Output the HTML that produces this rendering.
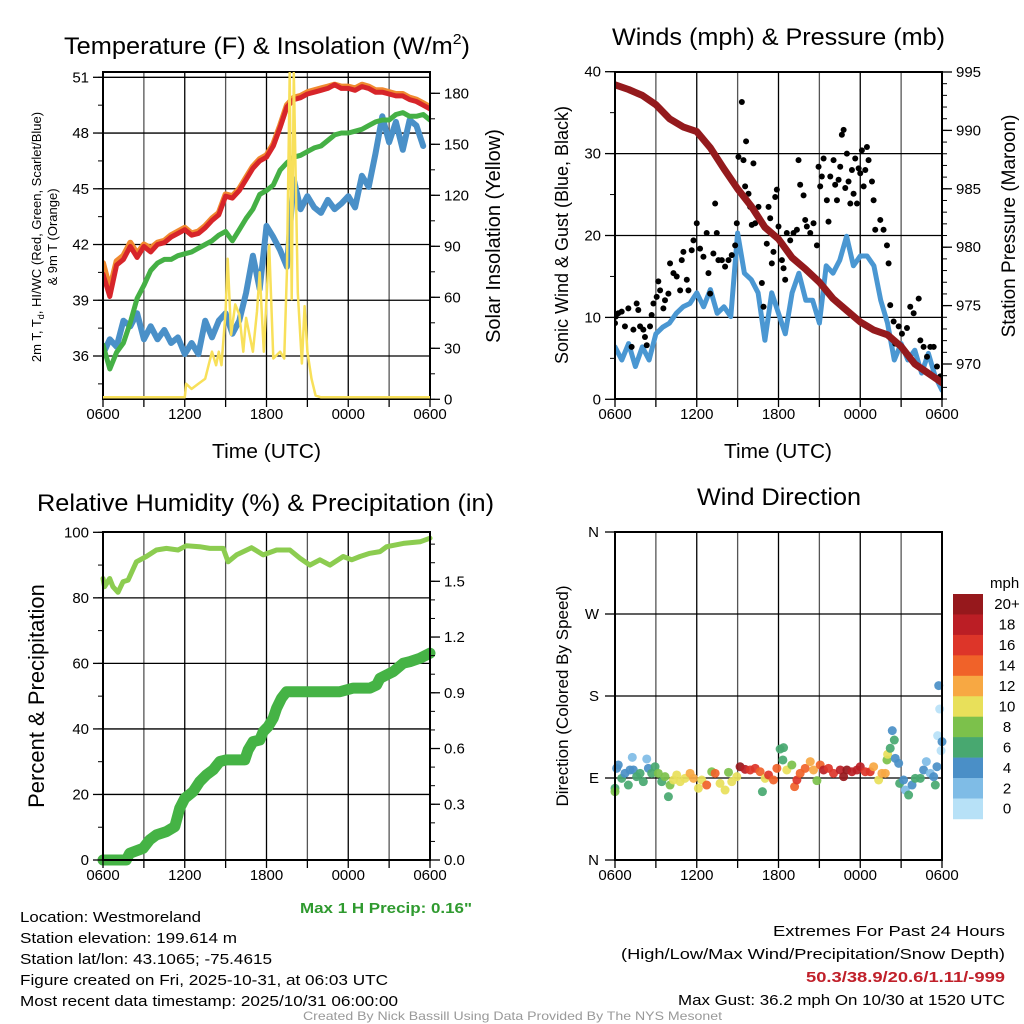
<!DOCTYPE html>
<html><head><meta charset="utf-8"><style>
html,body{margin:0;padding:0;background:#fff;}
svg{display:block;font-family:"Liberation Sans",Arial,sans-serif;}
</style></head><body>
<svg id="fig" width="1024" height="1024" viewBox="0 0 1024 1024" xmlns="http://www.w3.org/2000/svg">
<g id="p1"></g>
<g id="p2"></g>
<g id="p3"></g>
<g id="p4"></g>
<g font-size="24" fill="#000">
<text x="64" y="54" textLength="406" lengthAdjust="spacingAndGlyphs">Temperature (F) &amp; Insolation (W/m<tspan font-size="15" dy="-10">2</tspan><tspan dy="10">)</tspan></text>
<text x="612" y="45" textLength="333" lengthAdjust="spacingAndGlyphs">Winds (mph) &amp; Pressure (mb)</text>
<text x="37" y="511" textLength="457" lengthAdjust="spacingAndGlyphs">Relative Humidity (%) &amp; Precipitation (in)</text>
<text x="697" y="505" textLength="164" lengthAdjust="spacingAndGlyphs">Wind Direction</text>
</g>
<g fill="#000">
<text x="212" y="458" font-size="20" textLength="109" lengthAdjust="spacingAndGlyphs">Time (UTC)</text>
<text x="724" y="458" font-size="20" textLength="108" lengthAdjust="spacingAndGlyphs">Time (UTC)</text>
<text transform="translate(41,237) rotate(-90)" text-anchor="middle" font-size="13">2m T, T<tspan font-size="9" dy="3">d</tspan><tspan dy="-3">, HI/WC (Red, Green, Scarlet/Blue)</tspan></text>
<text transform="translate(57,237) rotate(-90)" text-anchor="middle" font-size="13">&amp; 9m T (Orange)</text>
<text transform="translate(500,236) rotate(-90)" text-anchor="middle" font-size="20">Solar Insolation (Yellow)</text>
<text transform="translate(568,235) rotate(-90)" text-anchor="middle" font-size="18">Sonic Wind &amp; Gust (Blue, Black)</text>
<text transform="translate(1015,226) rotate(-90)" text-anchor="middle" font-size="19">Station Pressure (Maroon)</text>
<text transform="translate(44,696) rotate(-90)" text-anchor="middle" font-size="22">Percent &amp; Precipitation</text>
<text transform="translate(568,696) rotate(-90)" text-anchor="middle" font-size="17">Direction (Colored By Speed)</text>
</g>
<g font-size="15" fill="#000">
<text x="300" y="913" fill="#2f9a2f" font-weight="bold" textLength="172" lengthAdjust="spacingAndGlyphs">Max 1 H Precip: 0.16"</text>
<text x="20" y="922" textLength="181" lengthAdjust="spacingAndGlyphs">Location: Westmoreland</text>
<text x="20" y="943" textLength="217" lengthAdjust="spacingAndGlyphs">Station elevation: 199.614 m</text>
<text x="20" y="964" textLength="252" lengthAdjust="spacingAndGlyphs">Station lat/lon: 43.1065; -75.4615</text>
<text x="20" y="985" textLength="368" lengthAdjust="spacingAndGlyphs">Figure created on Fri, 2025-10-31, at 06:03 UTC</text>
<text x="20" y="1006" textLength="378" lengthAdjust="spacingAndGlyphs">Most recent data timestamp: 2025/10/31 06:00:00</text>
<text x="773" y="936" textLength="232" lengthAdjust="spacingAndGlyphs">Extremes For Past 24 Hours</text>
<text x="621" y="959" textLength="384" lengthAdjust="spacingAndGlyphs">(High/Low/Max Wind/Precipitation/Snow Depth)</text>
<text x="806" y="982" fill="#c0202a" font-weight="bold" textLength="199" lengthAdjust="spacingAndGlyphs">50.3/38.9/20.6/1.11/-999</text>
<text x="678" y="1005" textLength="327" lengthAdjust="spacingAndGlyphs">Max Gust: 36.2 mph On 10/30 at 1520 UTC</text>
<text x="303" y="1020" font-size="12" fill="#999" textLength="419" lengthAdjust="spacingAndGlyphs">Created By Nick Bassill Using Data Provided By The NYS Mesonet</text>
</g>
</svg>
<script>
// ===== Data =====
const xTickLabels = ["0600","1200","1800","0000","0600"];
const halfHours = [0,0.5,1,1.5,2,2.5,3,3.5,4,4.5,5,5.5,6,6.5,7,7.5,8,8.5,9,9.5,10,10.5,11,11.5,12,12.5,13,13.5,14,14.5,15,15.5,16,16.5,17,17.5,18,18.5,19,19.5,20,20.5,21,21.5,22,22.5,23,23.5,24];
const tempRed = [40.4,39.2,40.9,41.2,41.9,41.3,41.9,41.6,42.0,42.1,42.4,42.6,42.8,42.5,42.6,42.9,43.3,43.6,44.6,44.5,44.9,45.5,46.1,46.5,46.7,47.3,48.3,49.4,49.8,49.9,50.1,50.2,50.3,50.4,50.6,50.4,50.4,50.3,50.5,50.4,50.2,50.2,50.1,50.0,50.0,49.8,49.7,49.5,49.3];
const tempOrange = [41.0,39.6,41.1,41.4,42.1,41.5,42.0,41.8,42.1,42.2,42.5,42.7,42.9,42.6,42.7,43.0,43.4,43.7,44.7,44.6,45.0,45.6,46.2,46.6,46.8,47.4,48.4,49.5,49.9,50.0,50.2,50.3,50.4,50.5,50.6,50.5,50.5,50.4,50.6,50.5,50.3,50.3,50.2,50.1,50.1,49.9,49.8,49.6,49.4];
const dewGreen = [36.6,35.3,36.2,36.7,37.8,39.1,39.8,40.6,41.0,41.2,41.2,41.4,41.5,41.6,41.8,42.0,42.2,42.5,42.7,42.2,42.8,43.4,43.9,44.7,44.9,45.2,46.0,46.4,46.7,46.8,47.0,47.2,47.3,47.6,47.9,48.0,48.0,48.1,48.2,48.4,48.6,48.7,48.7,49.0,49.1,48.9,48.9,49.0,48.7];
const windChillBlue = [36.1,36.9,36.5,37.9,37.6,38.3,36.9,37.6,36.9,37.4,36.7,37.0,36.1,36.7,36.1,37.9,37.0,37.9,38.3,37.2,37.9,39.4,41.4,39.6,43.0,42.4,41.7,40.8,45.5,43.9,44.6,44.0,43.7,44.4,43.9,44.2,44.6,44.0,45.7,45.1,46.9,48.9,47.5,48.6,47.1,48.7,48.4,47.3];
const solarTimes = [0,6.0,6.1,6.5,7,7.5,8,8.3,8.5,8.7,9.0,9.15,9.4,9.7,10,10.3,10.5,11,11.3,11.5,11.8,12,12.2,12.5,13,13.3,13.5,13.7,13.85,14.0,14.3,14.6,14.8,15,15.3,15.6,16,24];
const solarValues = [0,0,8,5,8,11,27,19,27,19,51,82,37,55,49,27,47,27,51,74,27,58,90,23,27,23,74,192,58,192,62,20,54,27,11,1,0,0];
const tempTicks = [36,39,42,45,48,51];
const solarTicks = [0,30,60,90,120,150,180];

const hours = [0,1,2,3,4,5,6,7,8,9,10,11,12,13,14,15,16,17,18,19,20,21,22,23,24];
const pressure = [993.9,993.5,993.0,992.2,991.0,990.3,989.9,988.5,986.7,985.0,983.5,981.7,980.7,979.1,978.1,977.0,975.6,974.6,973.6,972.9,972.5,971.5,970.0,969.2,968.4];
const sonicWind = [6.4,4.8,6.8,4.0,6.4,4.8,8.0,8.8,9.3,10.5,11.3,11.7,13.0,11.3,13.4,10.5,11.3,10.1,20.3,15.4,14.6,13.0,7.2,13.0,10.5,8.0,13.0,15.4,12.1,12.1,9.3,16.3,15.4,17.0,19.9,16.3,17.5,17.5,16.3,12.1,9.3,4.8,6.8,4.8,6.0,3.2,5.6,2.8,1.1];
const gustTimes = [0,0.05,0.24,0.49,0.73,0.98,1.22,1.35,1.59,1.71,1.84,2.08,2.2,2.33,2.57,2.69,2.82,3.06,3.18,3.31,3.55,3.67,3.92,4.04,4.29,4.53,4.78,4.9,5.02,5.27,5.39,5.63,5.76,6.0,6.24,6.49,6.73,6.86,6.98,7.22,7.35,7.47,7.59,7.84,8.08,8.33,8.57,8.82,8.94,9.06,9.31,9.43,9.62,9.55,9.8,9.92,10.04,10.16,10.29,10.53,10.78,10.9,11.14,11.27,11.39,11.51,11.63,11.76,11.88,12.0,12.25,12.37,12.49,12.61,12.86,13.1,13.35,13.47,13.59,13.84,13.96,14.08,14.33,14.57,14.82,14.94,15.06,15.18,15.31,15.55,15.67,15.8,16.04,16.16,16.29,16.41,16.53,16.65,16.78,16.9,17.02,17.14,17.27,17.39,17.51,17.63,17.76,17.88,18.0,18.12,18.25,18.37,18.49,18.61,18.86,18.98,19.1,19.47,19.71,19.96,20.08,20.2,20.45,20.57,20.82,21.06,21.18,21.43,21.67,21.92,22.29,22.41,22.65,22.9,23.14,23.39,23.63,23.88];
const gustValues = [9.3,10.1,10.5,10.7,8.9,11.1,6.4,8.5,11.7,10.9,8.9,8.5,7.6,6.6,8.9,10.3,11.7,12.5,14.4,13.3,11.1,12.1,12.9,16.6,15.4,15.0,13.3,17.0,18.0,14.6,13.3,18.2,19.4,21.5,18.4,17.4,20.3,15.4,12.9,17.8,23.9,20.3,17.0,17.0,16.2,17.0,17.6,18.8,21.5,29.6,36.3,29.2,31.5,26.0,25.1,23.5,21.3,28.8,21.5,23.5,14.2,11.3,19.0,23.5,22.1,16.6,18.0,24.7,25.6,21.1,17.0,16.0,14.6,20.3,19.4,20.3,20.7,29.2,26.2,24.9,21.9,21.1,20.3,21.5,18.8,28.4,26.0,27.2,29.4,24.3,21.7,27.2,29.2,26.2,24.3,26.8,28.4,32.3,32.9,25.8,30.0,26.6,23.9,28.0,25.1,29.4,23.9,28.2,27.6,30.4,26.0,28.0,30.8,29.2,26.6,24.3,20.7,21.9,20.7,18.8,16.6,11.5,9.5,6.8,8.9,8.0,6.0,8.7,11.3,10.5,12.3,7.2,6.4,5.2,6.4,6.4,4.0,2.8];
const windTicks = [0,10,20,30,40];
const pressTicks = [970,975,980,985,990,995];

const rhTimes = [0,0.12,0.49,0.73,1.1,1.47,1.84,2.45,3.18,3.92,4.65,5.51,6.12,7.1,7.84,8.82,9.18,9.8,10.9,11.76,12.74,13.72,14.45,15.18,15.92,16.65,17.63,18.25,18.86,19.59,20.33,20.82,22.04,23.27,24];
const rhValues = [85.9,83.4,85.9,83.4,81.7,84.9,85.4,91.0,92.6,94.6,95.1,94.6,95.9,95.6,95.1,95.1,91.0,93.1,95.3,93.1,94.6,94.6,92.1,90.0,91.6,90.0,92.6,91.6,92.6,93.6,94.1,95.6,96.6,97.1,98.2];
const precipTimes = [0,1.71,1.96,2.94,3.43,3.92,4.65,5.27,5.63,6.0,6.61,7.1,7.59,8.08,8.57,9.06,10.41,10.65,11.02,11.51,11.76,12.12,12.49,12.74,13.1,13.47,15.18,17.39,18.37,19.59,20.08,20.33,20.82,21.31,22.04,22.53,23.27,24];
const precipValues = [0,0,0.036,0.063,0.108,0.135,0.153,0.18,0.278,0.332,0.368,0.422,0.458,0.485,0.53,0.539,0.539,0.592,0.637,0.646,0.691,0.718,0.763,0.817,0.871,0.906,0.906,0.906,0.925,0.925,0.942,0.978,0.996,1.014,1.059,1.068,1.086,1.113];
const pctTicks = [0,20,40,60,80,100];
const precipTicks = ["0.0","0.3","0.6","0.9","1.2","1.5"];

const dirTimes = [0,0,0.12,0.24,0.49,0.73,0.98,1.1,1.27,1.35,1.59,1.84,2.08,2.33,2.45,2.69,2.94,3.18,3.43,3.67,3.92,4.04,4.29,4.53,4.78,5.14,5.51,5.76,6.12,6.37,6.73,7.1,7.35,7.71,8.08,8.33,8.57,8.94,9.18,9.55,9.92,10.29,10.65,10.82,11.02,11.27,11.63,11.88,12.12,12.37,12.32,12.61,12.98,13.18,13.35,13.59,13.96,14.33,14.57,14.82,15.06,15.31,15.67,16.04,16.53,16.78,17.02,17.39,17.76,18.0,18.37,18.73,18.98,19.35,19.59,19.84,19.96,20.01,20.2,20.35,20.5,20.57,20.82,20.89,21.18,21.31,21.55,21.8,22.04,22.41,22.65,22.85,23.14,23.39,23.51,23.63,23.76,23.83,23.68,24.0,23.93];
const dirDegrees = [78.7,75.0,100.6,104.3,89.6,95.1,82.3,98.8,112.7,98.8,91.5,95.1,86.0,110.9,100.6,95.1,102.4,95.1,86.0,91.5,69.5,82.3,87.8,93.3,86.0,89.6,95.1,89.6,78.7,87.8,82.3,96.9,95.1,84.1,76.8,96.2,86.0,91.5,102.4,99.5,98.8,100.6,96.9,75.0,89.6,93.3,87.8,100.6,121.8,123.3,109.8,98.8,104.3,80.5,87.8,95.1,100.6,108.0,98.8,87.1,104.3,98.8,100.6,95.1,98.8,91.5,98.8,96.9,98.8,102.4,96.9,96.9,102.4,87.8,95.1,95.1,109.8,116.0,122.6,142.0,131.7,111.6,106.1,84.1,87.8,76.8,71.3,82.3,89.6,89.6,98.8,108.0,95.1,91.5,82.3,102.4,191.4,165.7,136.5,129.9,120.0];
const dirSpeeds = [7,8,4,4,6,5,6,4,3,4,6,6,6,3,4,6,6,8,6,8,6,8,10,10,10,10,12,12,10,10,14,8,14,10,10,8,10,10,20,18,16,16,14,6,10,16,14,14,6,6,6,10,8,14,16,14,14,12,12,8,14,18,16,16,18,20,20,18,18,18,16,16,12,10,12,12,8,10,6,4,6,4,4,6,4,2,6,4,6,6,4,2,2,4,6,4,4,0,0,4,0];
const dirTickLabels = ["N","E","S","W","N"];
const speedBins = ["0","2","4","6","8","10","12","14","16","18","20+"];
const speedColors = ["#b7e1f7","#7fbce6","#4a8fc7","#48a870","#7cc14b","#e8e05a","#f7a843","#f06229","#dd3529","#bb1e25","#96181c"];

// ===== Helpers =====
const NS = "http://www.w3.org/2000/svg";
function mk(parent, tag, attrs) {
  const el = document.createElementNS(NS, tag);
  for (const k in attrs) el.setAttribute(k, attrs[k]);
  parent.appendChild(el);
  return el;
}
function lin(d0, d1, r0, r1) { return v => r0 + (v - d0) / (d1 - d0) * (r1 - r0); }
function pathFrom(xs, ys, fx, fy) {
  return xs.map((t, i) => (i ? "L" : "M") + fx(t).toFixed(1) + "," + fy(ys[i]).toFixed(1)).join("");
}
function grid(g, L, R, T, B, fx, fy, yTicks) {
  for (let h = 0; h <= 24; h += 3) {
    const ln = mk(g, "line", {x1: fx(h), x2: fx(h), y1: T, y2: B, stroke: h % 6 === 0 ? "#000" : "#555", "stroke-width": 1.3});
    
    
  }
  yTicks.forEach(v => {
    const ln = mk(g, "line", {x1: L, x2: R, y1: fy(v), y2: fy(v), stroke: "#000", "stroke-width": 1.3});
    
    
  });
}
function frame(g, L, R, T, B) {
  const r = mk(g, "rect", {x: L, y: T, width: R - L, height: B - T, fill: "none", stroke: "#000", "stroke-width": 2});
  
  
}
function xAxis(g, fx, B) {
  for (let h = 0; h <= 24; h += 3) {
    const tk = mk(g, "line", {x1: fx(h), x2: fx(h), y1: B, y2: B + 8, stroke: "#000", "stroke-width": 1.3});
    
    
  }
  xTickLabels.forEach((lab, i) => {
    const tx = mk(g, "text", {x: fx(i * 6), y: B + 20, "font-size": 15, "text-anchor": "middle"});
    tx.textContent = lab;
    
    
  });
}
function yAxis(g, x, fy, ticks, labels, minorStep, lo, hi, side) {
  const dir = side === "left" ? -1 : 1;
  ticks.forEach((v, i) => {
    const tk = mk(g, "line", {x1: x, x2: x + dir * 10, y1: fy(v), y2: fy(v), stroke: "#000", "stroke-width": 1.3});
    
    
    const tx = mk(g, "text", {x: x + dir * 14, y: fy(v) + 5, "font-size": 15, "text-anchor": side === "left" ? "end" : "start"});
    tx.textContent = labels[i];
    
    
  });
  for (let v = lo; v <= hi + 1e-9; v += minorStep) {
    const m = mk(g, "line", {x1: x, x2: x + dir * 5, y1: fy(v), y2: fy(v), stroke: "#000", "stroke-width": 1});
    
    
  }
}
function line(g, d, color, w, name) {
  const p = mk(g, "path", {d: d, fill: "none", stroke: color, "stroke-width": w, "stroke-linejoin": "round", "stroke-linecap": "round"});
  
  
  return p;
}

// ===== Panel 1 =====
(function(){
  const g = document.getElementById("p1");
  const L = 103, R = 430, T = 72, B = 399;
  const fx = lin(0, 24, L, R);
  const fy = lin(36, 51, 356, 77.3);
  const fs = lin(0, 180, 399.3, 93.3);
  const fsLine = lin(0, 180, 397.3, 93.3);
  grid(g, L, R, T, B, fx, fy, tempTicks);
  const clip = mk(g, "clipPath", {id: "c1"}); mk(clip, "rect", {x: L, y: T, width: R - L, height: B - T});
  const pg = mk(g, "g", {"clip-path": "url(#c1)"});
  
  
  line(pg, pathFrom(halfHours.slice(0, windChillBlue.length), windChillBlue, fx, fy), "#4a90c8", 6, "wind-chill-line");
  line(pg, pathFrom(halfHours, dewGreen, fx, fy), "#45b045", 5, "dewpoint-line");
  line(pg, pathFrom(halfHours, tempOrange, fx, fy), "#f08a30", 6, "temp-9m-line");
  line(pg, pathFrom(halfHours, tempRed, fx, fy), "#d7252a", 5, "temp-2m-line");
  frame(g, L, R, T, B);
  const clip2 = mk(g, "clipPath", {id: "c1b"}); mk(clip2, "rect", {x: L, y: T, width: R - L, height: B - T + 3});
  const sg = mk(g, "g", {"clip-path": "url(#c1b)"});
  
  
  line(sg, pathFrom(solarTimes, solarValues, fx, fsLine), "#f8e05a", 2.5, "solar-line");
  xAxis(g, fx, B);
  yAxis(g, L, fy, tempTicks, tempTicks.map(String), 1.5, 34.5, 51, "left");
  yAxis(g, R, fs, solarTicks, solarTicks.map(String), 15, 0, 180, "right");
})();

// ===== Panel 2 =====
(function(){
  const g = document.getElementById("p2");
  const L = 615, R = 942, T = 72, B = 399;
  const fx = lin(0, 24, L, R);
  const fy = lin(0, 40, 399.3, 71.7);
  const fp = lin(995, 970, 72, 364);
  grid(g, L, R, T, B, fx, fy, windTicks);
  const clip = mk(g, "clipPath", {id: "c2"}); mk(clip, "rect", {x: L, y: T, width: R - L, height: B - T});
  const pg = mk(g, "g", {"clip-path": "url(#c2)"});
  
  
  line(pg, pathFrom(halfHours, sonicWind, fx, fy), "#4a97d2", 5, "sonic-wind-line");
  gustTimes.forEach((t, i) => {
    const c = mk(pg, "circle", {cx: fx(t), cy: fy(gustValues[i]), r: 3, fill: "#000"});
    
    
  });
  line(pg, pathFrom(hours, pressure, fx, fp), "#941a1d", 7, "pressure-line");
  frame(g, L, R, T, B);
  xAxis(g, fx, B);
  yAxis(g, L, fy, windTicks, windTicks.map(String), 5, 0, 40, "left");
  yAxis(g, R, fp, pressTicks, pressTicks.map(String), 1, 967, 995, "right");
})();

// ===== Panel 3 =====
(function(){
  const g = document.getElementById("p3");
  const L = 103, R = 430, T = 532, B = 860;
  const fx = lin(0, 24, L, R);
  const fy = lin(0, 100, 860, 532.3);
  const fp = lin(0, 1.5, 860, 581.3);
  grid(g, L, R, T, B, fx, fy, pctTicks);
  const pg = mk(g, "g", {});
  
  
  line(pg, pathFrom(rhTimes, rhValues, fx, fy), "#8ccc50", 5, "humidity-line");
  line(pg, pathFrom(precipTimes, precipValues, fx, fp), "#45b345", 11, "precip-line");
  frame(g, L, R, T, B);
  xAxis(g, fx, B);
  yAxis(g, L, fy, pctTicks, pctTicks.map(String), 10, 0, 100, "left");
  yAxis(g, R, fp, precipTicks.map(Number), precipTicks, 0.1, 0, 1.7, "right");
})();

// ===== Panel 4 =====
(function(){
  const g = document.getElementById("p4");
  const L = 615, R = 942, T = 532, B = 860;
  const fx = lin(0, 24, L, R);
  const fy = lin(0, 360, 860, 532);
  const dirTicks = [0, 90, 180, 270, 360];
  grid(g, L, R, T, B, fx, fy, dirTicks);
  const pg = mk(g, "g", {});
  
  
  dirTimes.forEach((t, i) => {
    const bin = Math.min(10, Math.floor(dirSpeeds[i] / 2));
    const c = mk(pg, "circle", {cx: fx(t), cy: fy(dirDegrees[i]), r: 4.5, fill: speedColors[bin], "fill-opacity": 0.92});
    
    
  });
  frame(g, L, R, T, B);
  xAxis(g, fx, B);
  dirTickLabels.forEach((lab, i) => {
    const v = dirTicks[i];
    const tk = mk(g, "line", {x1: L, x2: L - 10, y1: fy(v), y2: fy(v), stroke: "#000", "stroke-width": 1.3});
    
    
    const tx = mk(g, "text", {x: L - 16, y: fy(v) + 5, "font-size": 15, "text-anchor": "end"});
    tx.textContent = lab;
    
    
  });
  const lg = mk(g, "g", {});
  
  
  const mph = mk(lg, "text", {x: 990, y: 588, "font-size": 15});
  mph.textContent = "mph";
  
  
  const top = 594, h = 20.45;
  for (let i = 10; i >= 0; i--) {
    const row = 10 - i;
    const r = mk(lg, "rect", {x: 953, y: top + row * h, width: 30, height: h + 0.3, fill: speedColors[i]});
    
    
    const tx = mk(lg, "text", {x: 1007, y: top + row * h + h / 2 + 5, "font-size": 15, "text-anchor": "middle"});
    tx.textContent = speedBins[i];
    
    
  }
})();
</script>
</body></html>
